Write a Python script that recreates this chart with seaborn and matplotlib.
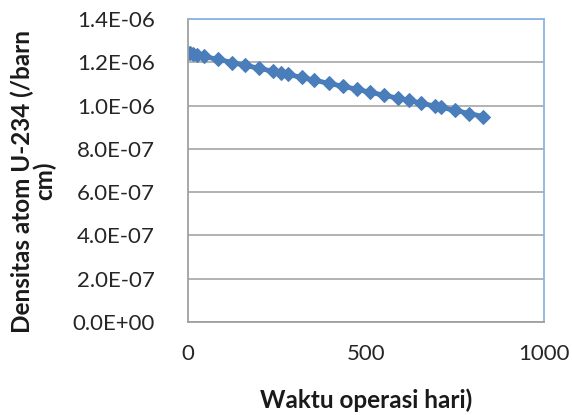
import matplotlib
matplotlib.use("Agg")
import matplotlib.pyplot as plt
import seaborn as sns
import pandas as pd
from matplotlib.ticker import FuncFormatter

# Operating time (days) and U-234 atom density (/barn cm)
days = [0, 1, 5, 15, 25, 45, 85, 125, 160, 200, 240, 260, 280, 320, 355,
        395, 435, 475, 510, 550, 590, 620, 655, 695, 710, 750, 790, 830]
density = [1.244e-06, 1.243e-06, 1.241e-06, 1.237e-06, 1.234e-06, 1.227e-06,
           1.213e-06, 1.199e-06, 1.186e-06, 1.172e-06, 1.158e-06, 1.151e-06,
           1.144e-06, 1.130e-06, 1.117e-06, 1.103e-06, 1.089e-06, 1.075e-06,
           1.062e-06, 1.048e-06, 1.034e-06, 1.024e-06, 1.011e-06, 0.997e-06,
           0.992e-06, 0.978e-06, 0.963e-06, 0.949e-06]

x_ticks = [0, 500, 1000]
y_ticks = [0.0, 2e-07, 4e-07, 6e-07, 8e-07, 1e-06, 1.2e-06, 1.4e-06]

df = pd.DataFrame({"hari": days, "densitas": density})

sns.set_theme(style="white")
plt.rcParams["font.family"] = ["Lato", "DejaVu Sans"]

fig = plt.figure(figsize=(5.72, 4.15), dpi=100)
ax = fig.add_axes([188 / 572, 1 - 322 / 415, 356 / 572, 303 / 415])

blue = "#4a7ebb"
sns.lineplot(data=df, x="hari", y="densitas", ax=ax, color=blue,
             linewidth=3.5, marker="D", markersize=7,
             markeredgecolor=blue, markerfacecolor=blue)

ax.set_xlim(0, 1000)
ax.set_ylim(0, 1.4e-06)
ax.set_xticks(x_ticks)
ax.set_yticks(y_ticks)
ax.yaxis.set_major_formatter(FuncFormatter(lambda v, _: f"{v:.1E}"))
ax.grid(axis="y", color="#a6a6a6", linewidth=1.2)
ax.grid(axis="x", visible=False)
ax.set_axisbelow(True)

for side in ["left", "bottom"]:
    ax.spines[side].set_color("#a0a0a0")
    ax.spines[side].set_linewidth(1.3)
for side in ["top", "right"]:
    ax.spines[side].set_color("#8eb4e3")
    ax.spines[side].set_linewidth(1.3)

ax.tick_params(axis="both", length=0, labelsize=16, colors="#262626")
ax.tick_params(axis="y", pad=24)
ax.tick_params(axis="x", pad=16)

ax.set_xlabel("Waktu operasi hari)", fontsize=17.5, fontweight="bold",
              color="#1a1a1a")
ax.set_ylabel("Densitas atom U-234 (/barn\ncm)", fontsize=17.5,
              fontweight="bold", color="#1a1a1a", linespacing=0.95)
ax.xaxis.set_label_coords(0.5, -0.22)
ax.yaxis.set_label_coords(-0.37, 0.465)

fig.savefig("out.png", dpi=100)
